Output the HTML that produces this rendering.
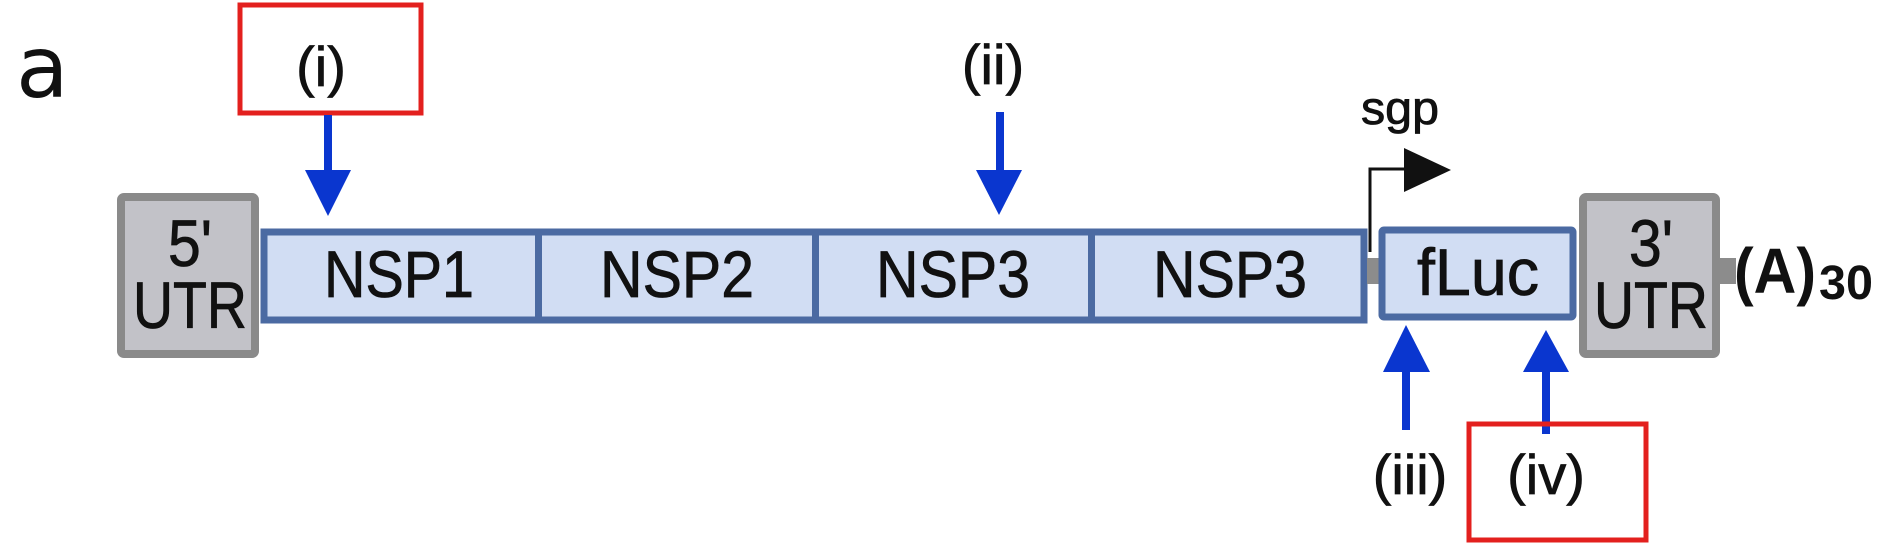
<!DOCTYPE html>
<html><head><meta charset="utf-8"><style>
html,body{margin:0;padding:0;background:#fff;}
svg{display:block;}
text{font-family:"Liberation Sans",Arial,sans-serif;fill:#111;}
.t{stroke:#111;stroke-width:0.8;}
</style></head><body>
<svg width="1884" height="544" viewBox="0 0 1884 544" xmlns="http://www.w3.org/2000/svg">
<text x="16" y="97" font-size="86" style="font-family:'DejaVu Sans',sans-serif" fill="#222">a</text>

<rect x="240" y="5" width="181" height="108" fill="none" stroke="#e3201e" stroke-width="5"/>
<text class="t" x="321" y="86" font-size="56" text-anchor="middle">(i)</text>
<rect x="324" y="115" width="8" height="57" fill="#0a36cf"/>
<polygon points="305,170 351,170 328,216" fill="#0a36cf"/>

<text class="t" x="993" y="84" font-size="56" text-anchor="middle">(ii)</text>
<rect x="996" y="112" width="8" height="60" fill="#0a36cf"/>
<polygon points="976,170 1022,170 999,215" fill="#0a36cf"/>

<rect x="121" y="197" width="134" height="157" rx="3" fill="#c2c2c8" stroke="#8a8a8a" stroke-width="8"/>
<text class="t" x="190" y="266" font-size="66" text-anchor="middle" textLength="44" lengthAdjust="spacingAndGlyphs">5'</text>
<text class="t" x="190" y="328" font-size="66" text-anchor="middle" textLength="114" lengthAdjust="spacingAndGlyphs">UTR</text>

<rect x="264" y="232" width="1100" height="88" fill="#d1ddf3" stroke="#4b6aa2" stroke-width="7"/>
<rect x="535" y="232" width="7" height="88" fill="#4b6aa2"/>
<rect x="812" y="232" width="7" height="88" fill="#4b6aa2"/>
<rect x="1088" y="232" width="7" height="88" fill="#4b6aa2"/>
<text class="t" x="399" y="297" font-size="66" text-anchor="middle" textLength="150" lengthAdjust="spacingAndGlyphs">NSP1</text>
<text class="t" x="677" y="297" font-size="66" text-anchor="middle" textLength="154" lengthAdjust="spacingAndGlyphs">NSP2</text>
<text class="t" x="953" y="297" font-size="66" text-anchor="middle" textLength="154" lengthAdjust="spacingAndGlyphs">NSP3</text>
<text class="t" x="1230" y="297" font-size="66" text-anchor="middle" textLength="154" lengthAdjust="spacingAndGlyphs">NSP3</text>

<rect x="1367" y="258" width="13" height="26" fill="#8c8c8c"/>
<polyline points="1370,252 1370,169 1406,169" fill="none" stroke="#111" stroke-width="3"/>
<polygon points="1404,148 1451,170 1404,192" fill="#111"/>
<text class="t" x="1400" y="124" font-size="46" text-anchor="middle" textLength="78" lengthAdjust="spacingAndGlyphs">sgp</text>

<rect x="1382" y="230" width="191" height="87" rx="2" fill="#d1ddf3" stroke="#4b6aa2" stroke-width="7"/>
<text class="t" x="1478" y="295" font-size="66" text-anchor="middle" textLength="122" lengthAdjust="spacingAndGlyphs">fLuc</text>

<rect x="1583" y="197" width="133" height="157" rx="3" fill="#c2c2c8" stroke="#8a8a8a" stroke-width="8"/>
<text class="t" x="1651" y="266" font-size="66" text-anchor="middle" textLength="44" lengthAdjust="spacingAndGlyphs">3'</text>
<text class="t" x="1651" y="328" font-size="66" text-anchor="middle" textLength="114" lengthAdjust="spacingAndGlyphs">UTR</text>
<rect x="1720" y="258" width="16" height="26" fill="#8c8c8c"/>
<text x="1734" y="293" font-size="64" font-weight="bold" fill="#222" textLength="82" lengthAdjust="spacingAndGlyphs">(A)</text>
<text x="1819" y="299" font-size="48" font-weight="bold" fill="#222" textLength="54" lengthAdjust="spacingAndGlyphs">30</text>

<polygon points="1383,372 1430,372 1406,325" fill="#0a36cf"/>
<rect x="1402" y="370" width="8" height="60" fill="#0a36cf"/>
<polygon points="1523,372 1569,372 1546,330" fill="#0a36cf"/>
<rect x="1542" y="370" width="8" height="64" fill="#0a36cf"/>

<text class="t" x="1410" y="494" font-size="56" text-anchor="middle">(iii)</text>
<rect x="1469" y="424" width="177" height="116" fill="none" stroke="#e3201e" stroke-width="5"/>
<text class="t" x="1546" y="494" font-size="56" text-anchor="middle">(iv)</text>
</svg>
</body></html>
